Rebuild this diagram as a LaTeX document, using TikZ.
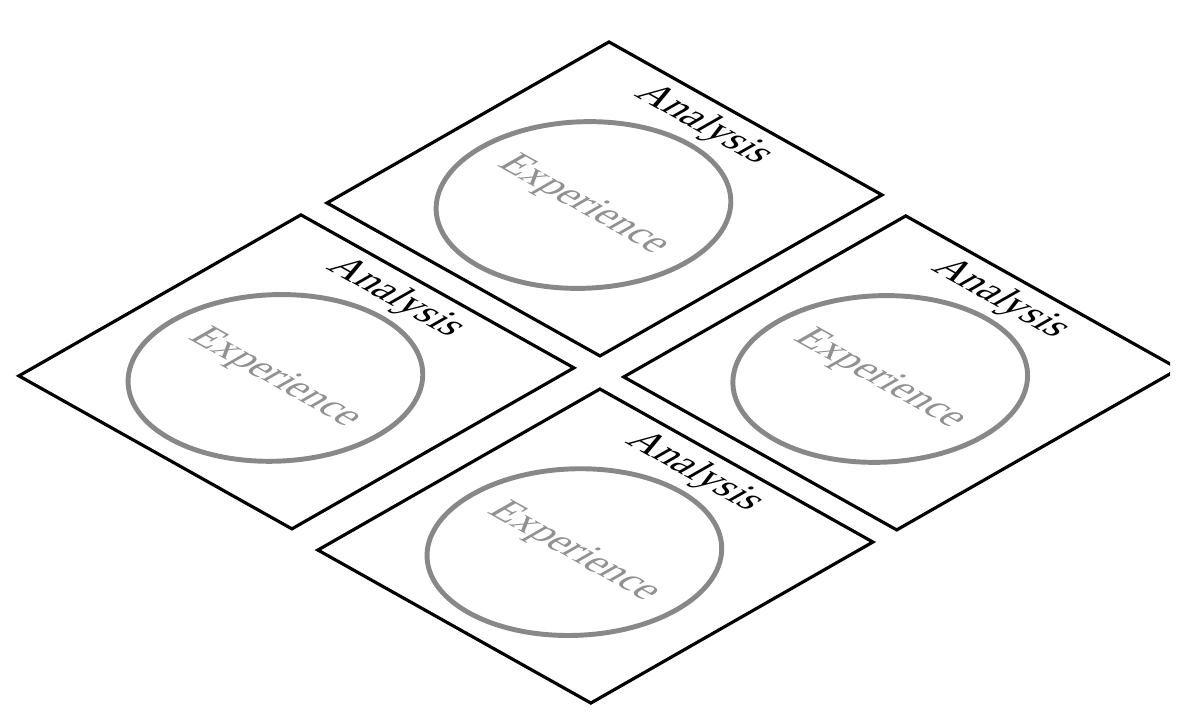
\documentclass[tikz,border=0pt]{standalone}
\usepackage{fontspec}
\setmainfont{Liberation Serif}
\usepackage{tikz}

\definecolor{ringgray}{RGB}{136,136,136}
\definecolor{textgray}{RGB}{145,145,145}

\begin{document}
\begin{tikzpicture}[every node/.style={transform shape}]
\useasboundingbox (0,0) rectangle (23.8,-14.44);
\clip (0,0) rectangle (23.4,-14.44);

% tilted plane holding the four fields
\begin{scope}[cm={0.8722,-0.4888,0.9010,0.5144,(11.99,-7.44)}]
\tikzstyle{field}=[draw, line width=1.8pt, minimum size=6.26cm, inner sep=0pt]
\tikzstyle{ring}=[draw=ringgray, circle, line width=2.8pt, minimum size=4.7cm, inner sep=0pt]
\tikzstyle{exp}=[text=textgray, font=\fontsize{23}{27}\selectfont]
\tikzstyle{ana}=[font=\fontsize{23}{27}\selectfont]

\foreach \name/\x/\y in {top/-3.45/3.45, left/-3.51/-3.33, right/3.51/3.30, bottom/3.48/-3.46} {
  \node [field] (\name) at (\x,\y) {};
  \node [ring] (\name-ring) at (\x-0.12,\y-0.35) {};
  \node [exp] (\name-exp) at (\name-ring) {Experience};
  \node [ana] (\name-ana) at (\x-0.35,\y+2.55) {Analysis};
}
\end{scope}

\end{tikzpicture}
\end{document}
